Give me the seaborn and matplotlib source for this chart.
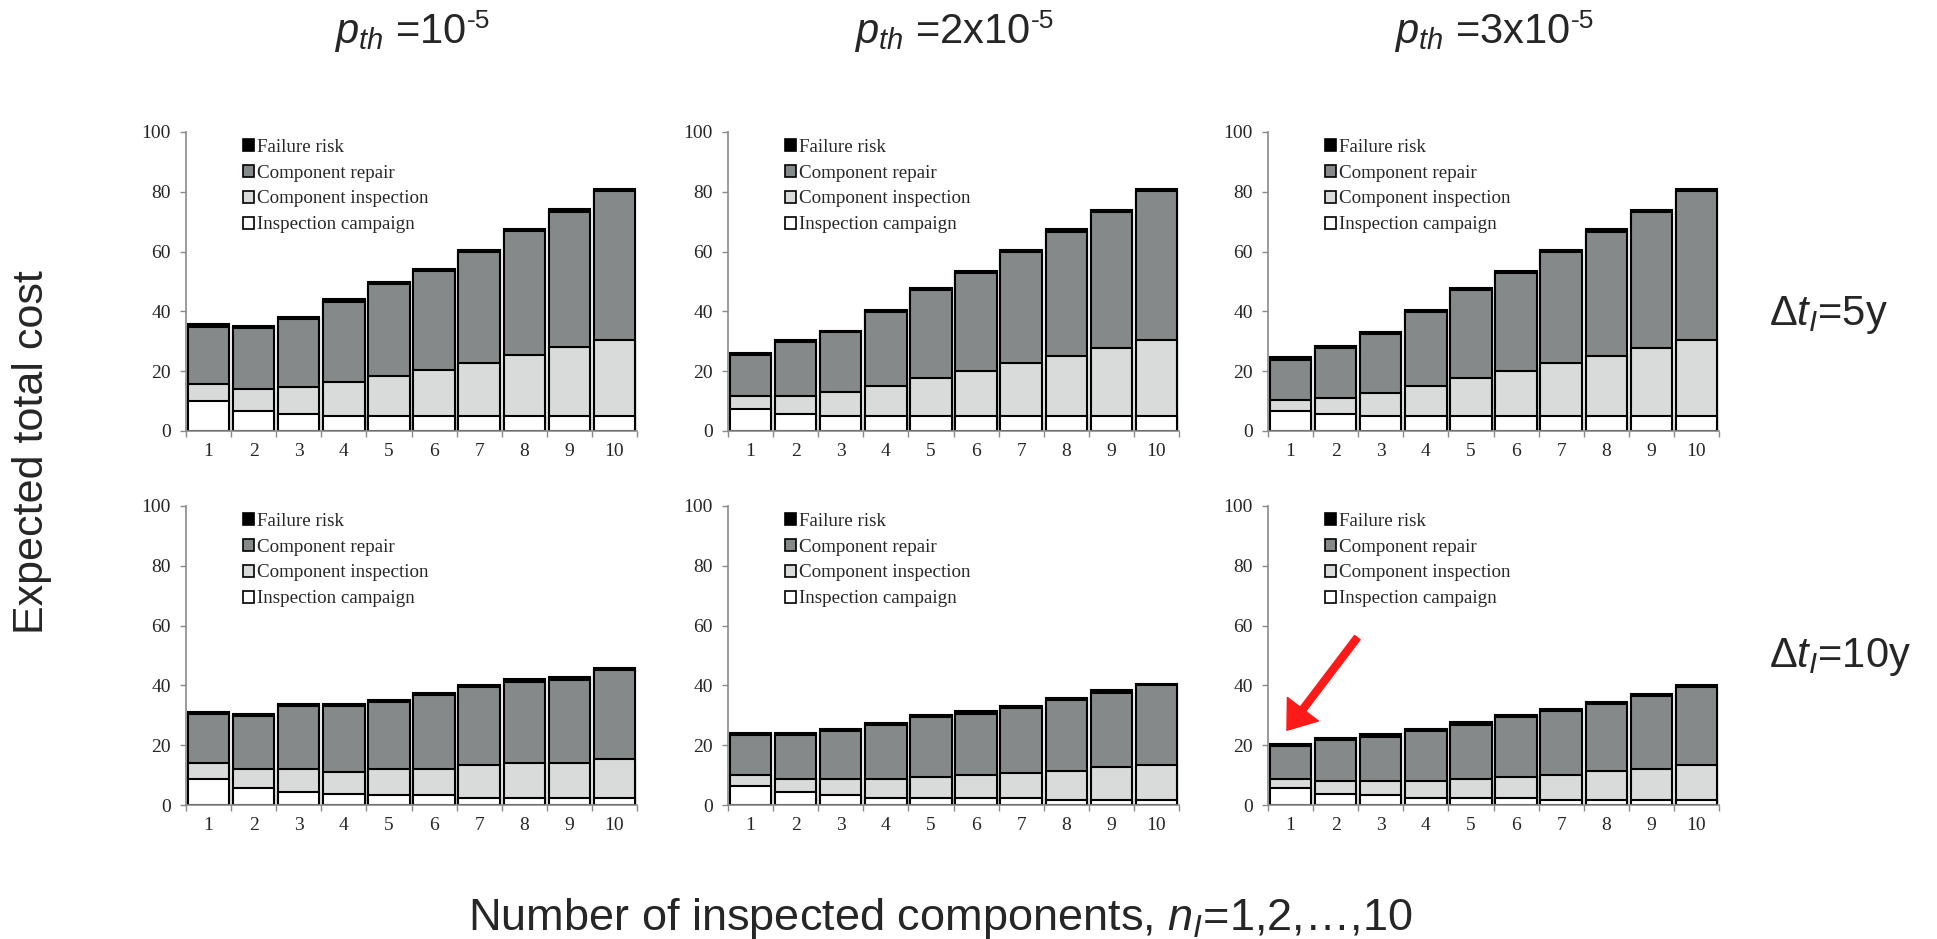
import numpy as np
import matplotlib
matplotlib.use("Agg")
import matplotlib.pyplot as plt
import seaborn as sns
from matplotlib.patches import Patch
from matplotlib.text import Annotation

# ---------------------------------------------------------------------------
# Data: expected cost contributions per number of inspected components n_I
# ---------------------------------------------------------------------------
n_inspected = ["1", "2", "3", "4", "5", "6", "7", "8", "9", "10"]

layer_names = ["Inspection campaign", "Component inspection",
               "Component repair", "Failure risk"]
layer_colors = ["#ffffff", "#d9dada", "#868989", "#000000"]

# Δt_I = 5 y, p_th = 1e-5
campaign_5y_1 = [10.1, 6.8, 5.7, 5.1, 5.1, 5.1, 5.1, 5.1, 5.1, 5.1]
inspection_5y_1 = [5.6, 7.1, 8.9, 11.4, 13.3, 15.3, 17.8, 20.3, 22.9, 25.5]
repair_5y_1 = [19.2, 20.4, 22.8, 26.7, 30.6, 33.1, 37.0, 41.4, 45.3, 49.7]
failure_5y_1 = [0.8, 0.8, 0.8, 0.8, 0.8, 0.7, 0.8, 0.8, 0.8, 0.7]

# Δt_I = 5 y, p_th = 2e-5
campaign_5y_2 = [7.3, 5.6, 5.0, 5.0, 5.0, 5.0, 5.0, 5.0, 5.0, 5.0]
inspection_5y_2 = [4.5, 6.2, 8.1, 10.0, 12.6, 15.0, 17.7, 20.2, 22.8, 25.4]
repair_5y_2 = [13.6, 18.0, 19.9, 24.9, 29.4, 32.8, 37.1, 41.5, 45.5, 49.9]
failure_5y_2 = [0.7, 0.7, 0.6, 0.7, 0.7, 0.7, 0.7, 0.8, 0.6, 0.7]

# Δt_I = 5 y, p_th = 3e-5
campaign_5y_3 = [6.7, 5.6, 5.0, 5.0, 5.0, 5.0, 5.0, 5.0, 5.0, 5.0]
inspection_5y_3 = [3.8, 5.6, 7.6, 10.0, 12.6, 15.0, 17.7, 20.2, 22.8, 25.4]
repair_5y_3 = [13.4, 16.6, 19.7, 24.9, 29.4, 32.8, 37.1, 41.5, 45.5, 49.9]
failure_5y_3 = [0.7, 0.7, 0.8, 0.7, 0.7, 0.7, 0.7, 0.8, 0.6, 0.7]

# Δt_I = 10 y, p_th = 1e-5
campaign_10y_1 = [8.8, 5.6, 4.3, 3.8, 3.2, 3.2, 2.4, 2.4, 2.4, 2.4]
inspection_10y_1 = [5.1, 6.3, 7.6, 7.3, 8.7, 8.7, 10.9, 11.5, 11.5, 12.9]
repair_10y_1 = [16.5, 17.8, 21.2, 22.0, 22.4, 25.0, 26.2, 27.3, 28.0, 29.8]
failure_10y_1 = [0.8, 0.8, 0.6, 0.6, 0.7, 0.7, 0.6, 0.8, 0.8, 0.8]

# Δt_I = 10 y, p_th = 2e-5
campaign_10y_2 = [6.3, 4.3, 3.2, 2.4, 2.4, 2.4, 2.4, 1.8, 1.8, 1.8]
inspection_10y_2 = [3.7, 4.3, 5.4, 6.2, 7.1, 7.6, 8.3, 9.6, 11.0, 11.6]
repair_10y_2 = [13.4, 14.8, 16.1, 18.1, 19.8, 20.5, 21.8, 23.7, 24.8, 26.6]
failure_10y_2 = [0.8, 0.8, 0.8, 0.7, 0.7, 0.8, 0.7, 0.6, 0.7, 0.6]

# Δt_I = 10 y, p_th = 3e-5
campaign_10y_3 = [5.7, 3.8, 3.2, 2.4, 2.4, 2.4, 1.8, 1.8, 1.8, 1.8]
inspection_10y_3 = [3.1, 4.3, 4.9, 5.7, 6.4, 7.1, 8.2, 9.6, 10.1, 11.6]
repair_10y_3 = [11.0, 13.6, 14.7, 16.7, 18.0, 19.9, 21.3, 22.5, 24.4, 26.1]
failure_10y_3 = [0.6, 0.7, 0.8, 0.7, 0.8, 0.7, 0.7, 0.7, 0.8, 0.7]

# column headings: base text and exponent written as a raised hyphenated "-5"
column_bases = [r"$p_{th}$ =10", r"$p_{th}$ =2x10", r"$p_{th}$ =3x10"]
column_exponent = "-5"
row_titles = [r"$\Delta t_I$=5y", r"$\Delta t_I$=10y"]

panel_layers = [
    [[campaign_5y_1, inspection_5y_1, repair_5y_1, failure_5y_1],
     [campaign_5y_2, inspection_5y_2, repair_5y_2, failure_5y_2],
     [campaign_5y_3, inspection_5y_3, repair_5y_3, failure_5y_3]],
    [[campaign_10y_1, inspection_10y_1, repair_10y_1, failure_10y_1],
     [campaign_10y_2, inspection_10y_2, repair_10y_2, failure_10y_2],
     [campaign_10y_3, inspection_10y_3, repair_10y_3, failure_10y_3]],
]

# ---------------------------------------------------------------------------
# Style
# ---------------------------------------------------------------------------
sns.set_style("white")
plt.rcParams["font.family"] = ["Liberation Sans", "DejaVu Sans"]
plt.rcParams["mathtext.fontset"] = "custom"
plt.rcParams["mathtext.rm"] = "Liberation Sans"
plt.rcParams["mathtext.it"] = "Liberation Sans:italic"
plt.rcParams["mathtext.bf"] = "Liberation Sans:bold"

SERIF = "Liberation Serif"
AXIS_GREY = "#8a8a8a"

W, H = 1937, 939
fig = plt.figure(figsize=(W / 100, H / 100), dpi=100)

col_left_px = [186, 728, 1268]
row_top_px = [132, 506]
ax_w_px, ax_h_px = 451, 299

axes = [[None] * 3 for _ in range(2)]
for r in range(2):
    for c in range(3):
        left = col_left_px[c] / W
        bottom = 1 - (row_top_px[r] + ax_h_px) / H
        ax = fig.add_axes([left, bottom, ax_w_px / W, ax_h_px / H])
        axes[r][c] = ax

        cum = np.cumsum(np.array(panel_layers[r][c], dtype=float), axis=0)
        # stack drawn from the tallest layer down so lower layers sit in front
        for k in reversed(range(len(layer_names))):
            sns.barplot(x=n_inspected, y=cum[k], color=layer_colors[k],
                        edgecolor="black", linewidth=1.5, width=0.92,
                        saturation=1, errorbar=None, ax=ax)

        ax.set_xlim(-0.5, 9.5)
        ax.set_ylim(0, 100)
        ax.set_xlabel("")
        ax.set_ylabel("")

        # x ticks at category boundaries, labels at bar centres
        ax.set_xticks(np.arange(-0.5, 10, 1.0))
        ax.set_xticklabels([])
        ax.set_xticks(np.arange(10), minor=True)
        ax.set_xticklabels(n_inspected, minor=True, fontfamily=SERIF,
                           fontsize=14)
        ax.tick_params(axis="x", which="major", direction="out", length=4,
                       width=1, color=AXIS_GREY, bottom=True)
        ax.tick_params(axis="x", which="minor", length=0, pad=9,
                       bottom=True)

        ax.set_yticks(np.arange(0, 101, 20))
        ax.set_yticklabels([str(v) for v in range(0, 101, 20)],
                           fontfamily=SERIF, fontsize=14)
        ax.tick_params(axis="y", direction="out", length=4, width=1,
                       color=AXIS_GREY, left=True, pad=7)

        for side in ("top", "right"):
            ax.spines[side].set_visible(False)
        for side in ("left", "bottom"):
            ax.spines[side].set_color(AXIS_GREY)
            ax.spines[side].set_linewidth(1.2)

        handles = [Patch(facecolor=layer_colors[k], edgecolor="black",
                         linewidth=1.2) for k in reversed(range(4))]
        labels = [layer_names[k] for k in reversed(range(4))]
        ax.legend(handles, labels, loc="upper left",
                  bbox_to_anchor=(0.126, 0.978), frameon=False,
                  prop={"family": SERIF, "size": 13.7},
                  handlelength=0.6, handleheight=0.6, handletextpad=0.15,
                  labelspacing=0.47, borderaxespad=0, borderpad=0)

# column headings with a small raised exponent
for c in range(3):
    xc = (col_left_px[c] + ax_w_px / 2 - 11) / W
    base = fig.text(xc, 1 - 43 / H, column_bases[c], ha="center",
                    va="baseline", fontsize=30)
    fig.add_artist(Annotation(column_exponent, xy=(1.0, 1.0),
                              xycoords=base, xytext=(0.5, 2.0),
                              textcoords="offset points", ha="left",
                              va="top", fontsize=19))

# row headings
fig.text(1769 / W, 1 - 325 / H, row_titles[0], ha="left", va="baseline",
         fontsize=30)
fig.text(1769 / W, 1 - 667 / H, row_titles[1], ha="left", va="baseline",
         fontsize=30)

# shared axis labels
fig.text(32 / W, 1 - 452 / H, "Expected total cost", rotation=90,
         ha="center", va="center", fontsize=31)
fig.text(940 / W, 1 - 930 / H,
         r"Number of inspected components, $n_I$=1,2,…,10",
         ha="center", va="baseline", fontsize=32.5)

# arrow pointing at the cheapest strategy
axes[1][2].annotate("", xy=(-0.08, 25), xytext=(1.48, 56),
                    arrowprops=dict(facecolor="#ff1a1a", edgecolor="#ff1a1a",
                                    width=5, headwidth=28, headlength=19,
                                    shrink=0))

fig.savefig("out.png", dpi=100)
